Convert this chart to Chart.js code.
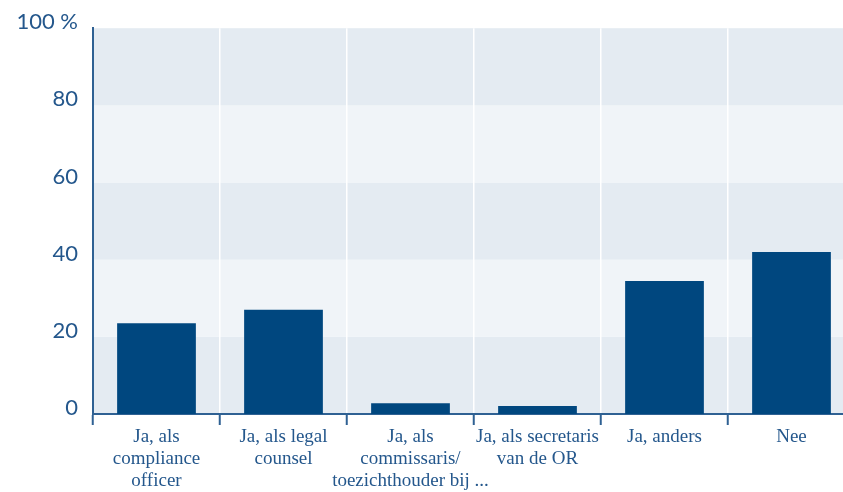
<!DOCTYPE html>
<html>
<head>
<meta charset="utf-8">
<script src="https://cdn.jsdelivr.net/npm/chart.js@4"></script>
<style>
  html, body { margin: 0; padding: 0; background: #fff; overflow: hidden; }
  #wrap { width: 855px; height: 492px; }
</style>
</head>
<body>
<div id="wrap"><canvas id="grap" width="855" height="492"></canvas></div>
<script>
const categorieen = [
    ["Ja, als", "compliance", "officer"],
    ["Ja, als legal", "counsel"],
    ["Ja, als", "commissaris/", "toezichthouder bij ..."],
    ["Ja, als secretaris", "van de OR"],
    "Ja, anders",
    "Nee"
]
const percentages = [23.5, 27, 2.8, 2.1, 34.5, 42]
const yTicks = [0, 20, 40, 60, 80, 100]

const donkerBlauw = '#00477f'
const tekstKleur = '#24578c'

// horizontale banden achter de staven
const banden = {
    id: 'banden',
    beforeDraw(chart) {
        const { ctx, chartArea, scales } = chart
        for (let i = 0; i < yTicks.length - 1; i++) {
            const yBoven = scales.y.getPixelForValue(yTicks[i + 1])
            const yOnder = scales.y.getPixelForValue(yTicks[i])
            ctx.fillStyle = i % 2 === 0 ? '#e4ebf2' : '#f0f4f8'
            ctx.fillRect(chartArea.left, yBoven, chartArea.right - chartArea.left, yOnder - yBoven)
        }
    }
}

function criarGraf() {
    const ctx = document.getElementById('grap').getContext('2d')

    new Chart(ctx, {
        type: 'bar',
        data: {
            labels: categorieen,
            datasets: [{
                data: percentages,
                backgroundColor: donkerBlauw,
                categoryPercentage: 1,
                barPercentage: 0.62
            }]
        },
        options: {
            responsive: false,
            animation: false,
            layout: { padding: { top: 27, right: 0, left: 0, bottom: 0 } },
            plugins: {
                legend: { display: false },
                tooltip: { enabled: false }
            },
            scales: {
                x: {
                    afterFit: (scale) => { scale.height = 78 },
                    grid: {
                        offset: true,
                        color: '#ffffff',
                        lineWidth: 1.5,
                        tickColor: '#2f6193',
                        tickLength: 11,
                        tickWidth: 2
                    },
                    border: { color: '#2f6193', width: 2 },
                    ticks: {
                        color: tekstKleur,
                        maxRotation: 0,
                        autoSkip: false,
                        padding: 1,
                        font: { family: 'Liberation Serif', size: 19, lineHeight: 1.16 }
                    }
                },
                y: {
                    min: 0,
                    max: 100,
                    afterFit: (scale) => { scale.width = 93 },
                    afterBuildTicks: (scale) => {
                        scale.ticks = yTicks.map(v => ({ value: v }))
                    },
                    grid: { display: false, drawTicks: false },
                    border: { color: '#2f6193', width: 2 },
                    ticks: {
                        color: tekstKleur,
                        padding: 15,
                        labelOffset: -6,
                        font: { family: 'Lato', size: 22 },
                        callback: function (value) {
                            return value === 100 ? '100 %' : value
                        }
                    }
                }
            }
        },
        plugins: [banden]
    })
}

criarGraf()
</script>
</body>
</html>
